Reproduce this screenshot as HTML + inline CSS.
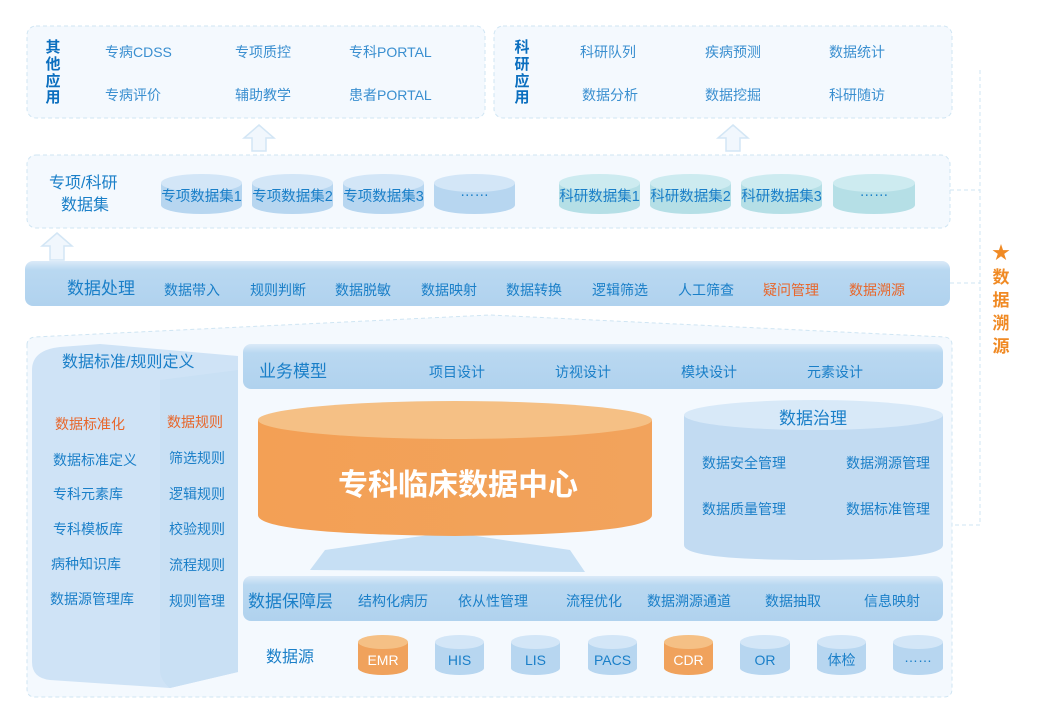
<!DOCTYPE html>
<html><head><meta charset="utf-8"><style>
body{margin:0;background:#fff;}
svg{display:block;font-family:"Liberation Sans","Noto Sans CJK SC",sans-serif;}
</style></head><body>
<svg width="1038" height="725" viewBox="0 0 1038 725" xmlns="http://www.w3.org/2000/svg">
<defs>
<linearGradient id="bar" x1="0" y1="0" x2="0" y2="1"><stop offset="0" stop-color="#dbeaf8"/><stop offset="0.2" stop-color="#b9d8f1"/><stop offset="1" stop-color="#b0d2ee"/></linearGradient>
<linearGradient id="org" x1="0" y1="0" x2="1" y2="0"><stop offset="0" stop-color="#f3a055"/><stop offset="1" stop-color="#f2a35c"/></linearGradient>
</defs>
<g fill="#f4f9fe" stroke="#cfe5f3" stroke-dasharray="4 3" stroke-width="1">
<rect x="27" y="26" width="458" height="92" rx="9"/>
<rect x="494" y="26" width="458" height="92" rx="9"/>
<rect x="27" y="155" width="923" height="73" rx="9"/>
<path d="M27 345 Q27 338 35 337 L490 315 L945 337 Q952 338 952 345 L952 689 Q952 697 944 697 L35 697 Q27 697 27 689 Z"/>
</g>
<g stroke="#cfe5f3" stroke-dasharray="4 3" fill="none">
<path d="M980 70 L980 525 L952 525"/><path d="M950 190 L980 190"/><path d="M950 283 L980 283"/>
</g>
<text x="1001" y="259" fill="#f08a24" font-size="18" text-anchor="middle">★</text>
<g fill="#f08a24" font-size="17" font-weight="bold" text-anchor="middle">
<text x="1001" y="283">数</text><text x="1001" y="306">据</text><text x="1001" y="329">溯</text><text x="1001" y="352">源</text></g>
<g fill="#0b6fbf" font-size="15" font-weight="bold" text-anchor="middle">
<text x="53" y="52">其</text><text x="53" y="69">他</text><text x="53" y="86">应</text><text x="53" y="102">用</text>
<text x="522" y="52">科</text><text x="522" y="69">研</text><text x="522" y="86">应</text><text x="522" y="102">用</text></g>
<g fill="#3a8fd0" font-size="14">
<text x="105" y="57">专病CDSS</text><text x="235" y="57">专项质控</text><text x="349" y="57">专科PORTAL</text>
<text x="105" y="100">专病评价</text><text x="235" y="100">辅助教学</text><text x="349" y="100">患者PORTAL</text>
<text x="580" y="57">科研队列</text><text x="705" y="57">疾病预测</text><text x="829" y="57">数据统计</text>
<text x="582" y="100">数据分析</text><text x="705" y="100">数据挖掘</text><text x="829" y="100">科研随访</text></g>
<g fill="#f1f7fd" stroke="#d3e6f5" stroke-width="1.5">
<path d="M259 125 L274 138 L266 138 L266 151 L252 151 L252 138 L244 138 Z"/>
<path d="M733 125 L748 138 L740 138 L740 151 L726 151 L726 138 L718 138 Z"/>
<path d="M57 233 L72 246 L64 246 L64 260 L50 260 L50 246 L42 246 Z"/>
</g>
<g fill="#1a7fc8" font-size="16"><text x="49" y="188">专项/科研</text><text x="61" y="210">数据集</text></g>
<g>
<g fill="#b7d6f0"><rect x="161" y="183" width="81" height="22"/><ellipse cx="201.5" cy="205" rx="40.5" ry="9"/></g><ellipse cx="201.5" cy="183" rx="40.5" ry="9" fill="#d3e6f7"/>
<g fill="#b7d6f0"><rect x="252" y="183" width="81" height="22"/><ellipse cx="292.5" cy="205" rx="40.5" ry="9"/></g><ellipse cx="292.5" cy="183" rx="40.5" ry="9" fill="#d3e6f7"/>
<g fill="#b7d6f0"><rect x="343" y="183" width="81" height="22"/><ellipse cx="383.5" cy="205" rx="40.5" ry="9"/></g><ellipse cx="383.5" cy="183" rx="40.5" ry="9" fill="#d3e6f7"/>
<g fill="#b7d6f0"><rect x="434" y="183" width="81" height="22"/><ellipse cx="474.5" cy="205" rx="40.5" ry="9"/></g><ellipse cx="474.5" cy="183" rx="40.5" ry="9" fill="#d3e6f7"/>
<g fill="#b5dfe6"><rect x="559" y="183" width="81" height="22"/><ellipse cx="599.5" cy="205" rx="40.5" ry="9"/></g><ellipse cx="599.5" cy="183" rx="40.5" ry="9" fill="#cdebf0"/>
<g fill="#b5dfe6"><rect x="650" y="183" width="81" height="22"/><ellipse cx="690.5" cy="205" rx="40.5" ry="9"/></g><ellipse cx="690.5" cy="183" rx="40.5" ry="9" fill="#cdebf0"/>
<g fill="#b5dfe6"><rect x="741" y="183" width="81" height="22"/><ellipse cx="781.5" cy="205" rx="40.5" ry="9"/></g><ellipse cx="781.5" cy="183" rx="40.5" ry="9" fill="#cdebf0"/>
<g fill="#b5dfe6"><rect x="833" y="183" width="82" height="22"/><ellipse cx="874" cy="205" rx="41" ry="9"/></g><ellipse cx="874" cy="183" rx="41" ry="9" fill="#cdebf0"/>
</g>
<g fill="#1a7fc8" font-size="14.5" text-anchor="middle">
<text x="201.5" y="201">专项数据集1</text><text x="292.5" y="201">专项数据集2</text><text x="383.5" y="201">专项数据集3</text><text x="474.5" y="196">……</text>
<text x="599.5" y="201">科研数据集1</text><text x="690.5" y="201">科研数据集2</text><text x="781.5" y="201">科研数据集3</text><text x="874" y="196">……</text></g>
<rect x="25" y="261" width="925" height="45" rx="8" fill="url(#bar)"/>
<g fill="#1a7fc8" font-size="14"><text x="67" y="294" font-size="17">数据处理</text>
<text x="164" y="295">数据带入</text><text x="250" y="295">规则判断</text><text x="335" y="295">数据脱敏</text><text x="421" y="295">数据映射</text><text x="506" y="295">数据转换</text><text x="592" y="295">逻辑筛选</text><text x="678" y="295">人工筛查</text></g>
<g fill="#e8662a" font-size="14"><text x="763" y="295">疑问管理</text><text x="849" y="295">数据溯源</text></g>
<path d="M32 370 Q32 350 60 347 L100 344 L238 356 L238 672 L170 688 L50 680 Q32 678 32 662 Z" fill="#cfe3f6"/>
<path d="M160 380 L238 370 L238 672 L170 688 Q160 680 160 670 Z" fill="#c9e0f4"/>
<text x="62" y="367" fill="#1a7fc8" font-size="16">数据标准/规则定义</text>
<g fill="#1a7fc8" font-size="14">
<text x="53" y="465">数据标准定义</text><text x="53" y="499">专科元素库</text><text x="53" y="534">专科模板库</text><text x="51" y="569">病种知识库</text><text x="50" y="604">数据源管理库</text>
<text x="169" y="463">筛选规则</text><text x="169" y="499">逻辑规则</text><text x="169" y="534">校验规则</text><text x="169" y="570">流程规则</text><text x="169" y="606">规则管理</text></g>
<g fill="#e8662a" font-size="14"><text x="55" y="429">数据标准化</text><text x="167" y="427">数据规则</text></g>
<rect x="243" y="344" width="700" height="45" rx="8" fill="url(#bar)"/>
<g fill="#1a7fc8" font-size="14"><text x="259" y="377" font-size="17">业务模型</text>
<text x="429" y="377">项目设计</text><text x="555" y="377">访视设计</text><text x="681" y="377">模块设计</text><text x="807" y="377">元素设计</text></g>
<path d="M310 570 L325 550 L450 532 L570 550 L585 572 Z" fill="#c6dff4"/>
<path d="M258 420 L258 515 Q258 534 455 536 Q652 534 652 515 L652 420 Z" fill="url(#org)"/>
<ellipse cx="455" cy="420" rx="197" ry="19" fill="#f5c085"/>
<text x="458" y="495" fill="#fff" font-size="30" font-weight="bold" text-anchor="middle">专科临床数据中心</text>
<path d="M684 415 L684 545 Q684 560 813 560 Q943 560 943 545 L943 415 Z" fill="#c2dbf2"/>
<ellipse cx="813.5" cy="415" rx="129.5" ry="15" fill="#d8e9f8"/>
<text x="813" y="424" fill="#1a7fc8" font-size="17" text-anchor="middle">数据治理</text>
<g fill="#1a7fc8" font-size="14"><text x="702" y="468">数据安全管理</text><text x="846" y="468">数据溯源管理</text><text x="702" y="514">数据质量管理</text><text x="846" y="514">数据标准管理</text></g>
<rect x="243" y="576" width="700" height="45" rx="8" fill="url(#bar)"/>
<g fill="#1a7fc8" font-size="14"><text x="248" y="607" font-size="17">数据保障层</text>
<text x="358" y="606">结构化病历</text><text x="458" y="606">依从性管理</text><text x="566" y="606">流程优化</text><text x="647" y="606">数据溯源通道</text><text x="765" y="606">数据抽取</text><text x="864" y="606">信息映射</text></g>
<text x="266" y="662" fill="#1a7fc8" font-size="16">数据源</text>
<g>
<g fill="#f0a25c"><rect x="358" y="642" width="50" height="26"/><ellipse cx="383" cy="668" rx="25" ry="7"/></g><ellipse cx="383" cy="642" rx="25" ry="7" fill="#f5c085"/>
<g fill="#b7d6f0"><rect x="435" y="642" width="49" height="26"/><ellipse cx="459.5" cy="668" rx="24.5" ry="7"/></g><ellipse cx="459.5" cy="642" rx="24.5" ry="7" fill="#d3e6f7"/>
<g fill="#b7d6f0"><rect x="511" y="642" width="49" height="26"/><ellipse cx="535.5" cy="668" rx="24.5" ry="7"/></g><ellipse cx="535.5" cy="642" rx="24.5" ry="7" fill="#d3e6f7"/>
<g fill="#b7d6f0"><rect x="588" y="642" width="49" height="26"/><ellipse cx="612.5" cy="668" rx="24.5" ry="7"/></g><ellipse cx="612.5" cy="642" rx="24.5" ry="7" fill="#d3e6f7"/>
<g fill="#f0a25c"><rect x="664" y="642" width="49" height="26"/><ellipse cx="688.5" cy="668" rx="24.5" ry="7"/></g><ellipse cx="688.5" cy="642" rx="24.5" ry="7" fill="#f5c085"/>
<g fill="#b7d6f0"><rect x="740" y="642" width="50" height="26"/><ellipse cx="765" cy="668" rx="25" ry="7"/></g><ellipse cx="765" cy="642" rx="25" ry="7" fill="#d3e6f7"/>
<g fill="#b7d6f0"><rect x="817" y="642" width="49" height="26"/><ellipse cx="841.5" cy="668" rx="24.5" ry="7"/></g><ellipse cx="841.5" cy="642" rx="24.5" ry="7" fill="#d3e6f7"/>
<g fill="#b7d6f0"><rect x="893" y="642" width="50" height="26"/><ellipse cx="918" cy="668" rx="25" ry="7"/></g><ellipse cx="918" cy="642" rx="25" ry="7" fill="#d3e6f7"/>
</g>
<g font-size="14" text-anchor="middle" fill="#1a7fc8">
<text x="383" y="665" fill="#fff">EMR</text><text x="459.5" y="665">HIS</text><text x="535.5" y="665">LIS</text><text x="612.5" y="665">PACS</text><text x="688.5" y="665" fill="#fff">CDR</text><text x="765" y="665">OR</text><text x="841.5" y="665">体检</text><text x="918" y="662">……</text></g>
</svg>
</body></html>
